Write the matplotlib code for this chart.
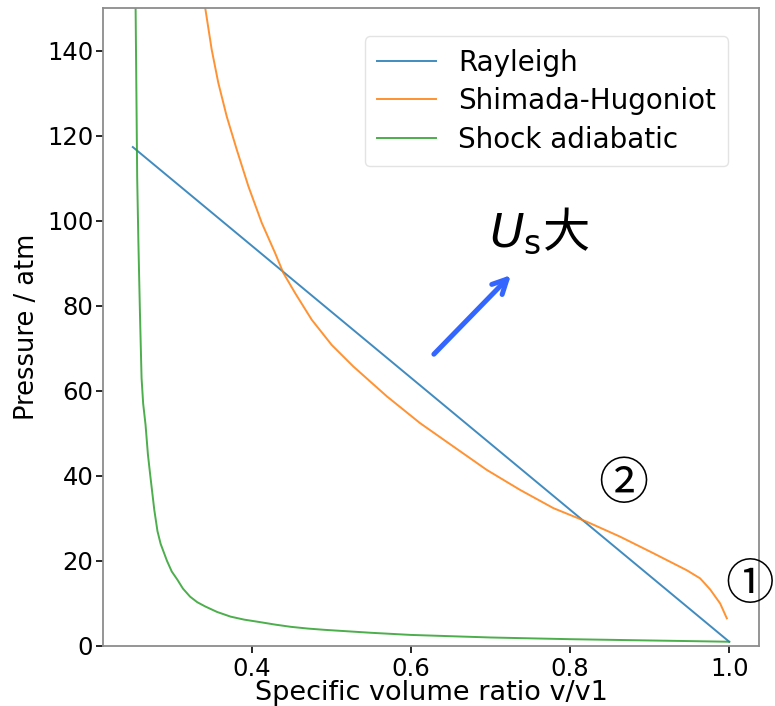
import numpy as np
import matplotlib
matplotlib.use('Agg')
import matplotlib.pyplot as plt

# Rayleigh line end points (v/v1, P)
v_rayleigh = [0.25, 1.0]
p_rayleigh = [117.3, 1.0]

# Shimada-Hugoniot curve
v_hugoniot = [0.3408, 0.3492, 0.3575, 0.3681, 0.3807, 0.3953, 0.4121, 0.4289,
              0.4393, 0.454, 0.475, 0.5, 0.5274, 0.5694, 0.6112, 0.6531,
              0.6951, 0.737, 0.779, 0.821, 0.8628, 0.9047, 0.9257, 0.9467,
              0.9634, 0.976, 0.9886, 0.997]
p_hugoniot = [150.3, 140.2, 132.4, 124.5, 116.7, 108.1, 99.5, 92.4,
              87.7, 83.0, 76.7, 70.8, 65.7, 58.7, 52.4, 46.9,
              41.4, 36.7, 32.4, 29.2, 25.7, 21.8, 19.8, 17.8,
              15.9, 13.3, 10.0, 6.5]

# Shock adiabatic curve
v_adiabat = [0.2535, 0.2545, 0.2555, 0.257, 0.259, 0.261, 0.263, 0.266, 0.269,
             0.272, 0.277, 0.281, 0.285, 0.289, 0.293, 0.299, 0.306, 0.313,
             0.322, 0.331, 0.341, 0.356, 0.373, 0.390, 0.407, 0.430, 0.449,
             0.470, 0.491, 0.550, 0.600, 0.650, 0.700, 0.800, 0.900, 1.0]
p_adiabat = [150.0, 130.0, 110.0, 95.0, 78.0, 63.0, 57.0, 52.0, 45.0,
             40.0, 32.0, 27.0, 24.0, 22.0, 20.0, 17.5, 15.6, 13.5,
             11.6, 10.3, 9.3, 8.0, 6.9, 6.2, 5.7, 5.0, 4.5,
             4.1, 3.8, 3.1, 2.6, 2.3, 2.0, 1.6, 1.3, 1.0]

fig = plt.figure(figsize=(7.75, 7.06), dpi=100)
ax = fig.add_axes([0.1329, 0.085, 0.8465, 0.9037])

ax.plot(v_rayleigh, p_rayleigh, color='tab:blue', lw=1.4, label='Rayleigh', alpha=0.85)
ax.plot(v_hugoniot, p_hugoniot, color='tab:orange', lw=1.4, label='Shimada-Hugoniot', alpha=0.85)
ax.plot(v_adiabat, p_adiabat, color='tab:green', lw=1.4, label='Shock adiabatic', alpha=0.85)

ax.set_xlim(0.2125, 1.0375)
ax.set_ylim(0, 150)
ax.set_xticks([0.4, 0.6, 0.8, 1.0])
ax.set_yticks(np.arange(0, 141, 20))
ax.tick_params(labelsize=17.5, length=5, width=1.2)
ax.tick_params(axis='y', pad=2)
ax.tick_params(axis='x', pad=3)
for s in ax.spines.values():
    s.set_color('#8c8c8c')
    s.set_linewidth(1.3)

ax.set_xlabel('Specific volume ratio v/v1', fontsize=19.5, labelpad=-1)
ax.set_ylabel('Pressure / atm', fontsize=18.5, labelpad=5)

leg = ax.legend(loc='upper right', bbox_to_anchor=(0.953, 0.956), borderaxespad=0,
                fontsize=20, handlelength=2.1, handletextpad=0.8,
                labelspacing=0.38, borderpad=0.45)
leg.get_frame().set_edgecolor('#dddddd')

# shock-speed direction
ax.annotate('', xy=(0.7255, 87.2), xytext=(0.6286, 68.6),
            arrowprops=dict(arrowstyle='->', color='#3366ff', lw=3.6,
                            mutation_scale=26, shrinkA=0, shrinkB=0))
ax.text(0.698, 94.0, r'$U_\mathrm{s}$大', fontsize=34, ha='left', va='baseline',
        family=['Noto Sans CJK JP', 'DejaVu Sans'])

ax.text(0.8672, 37.8, '②', fontsize=36, ha='center', va='center',
        family=['Noto Sans CJK JP', 'DejaVu Sans'])
ax.text(1.0255, 14.3, '①', fontsize=35, ha='center', va='center',
        family=['Noto Sans CJK JP', 'DejaVu Sans'], clip_on=False)

fig.savefig('out.png', dpi=100)
